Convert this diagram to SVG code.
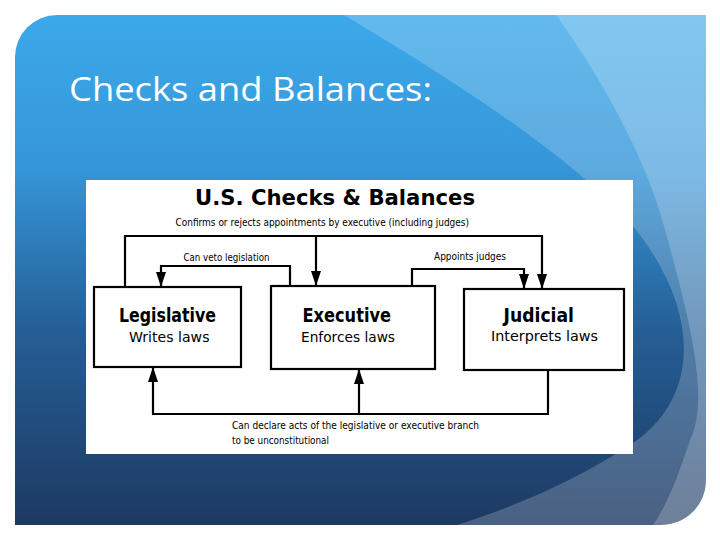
<svg xmlns="http://www.w3.org/2000/svg" width="720" height="540" viewBox="0 0 720 540">
<defs>
<linearGradient id="bgGrad" x1="0" y1="0" x2="0" y2="1">
<stop offset="0" stop-color="#3CA9EA"/>
<stop offset="0.3" stop-color="#3596D8"/>
<stop offset="0.62" stop-color="#255E95"/>
<stop offset="1" stop-color="#1D3962"/>
</linearGradient>
<clipPath id="bgClip"><path d="M57,15 H706 V480 A45,45 0 0 1 661,525 H15 V57 A42,42 0 0 1 57,15 Z"/></clipPath>
<marker id="ah" viewBox="0 0 15 10" refX="15" refY="5" markerWidth="15" markerHeight="10" markerUnits="userSpaceOnUse" orient="auto">
<path d="M0,0 L15,5 L0,10 Z" fill="#000"/>
</marker>
</defs>
<style>
.title{font-family:"Open Sans","DejaVu Sans",sans-serif;font-size:33px;fill:#fff}
.dg{font-family:"Comic Sans MS","DejaVu Sans",sans-serif;fill:#000}
.big{font-size:22px;font-weight:bold}
.name{font-size:19px;font-weight:bold}
.sub{font-size:14px}
.lbl{font-size:10px}
.box{fill:#fff;stroke:#000;stroke-width:2.2}
.conn{fill:none;stroke:#000;stroke-width:2.2}
</style>
<g id="background">
<path d="M57,15 H706 V480 A45,45 0 0 1 661,525 H15 V57 A42,42 0 0 1 57,15 Z" fill="url(#bgGrad)"/>
<g clip-path="url(#bgClip)">
<path d="M344,15 C470,90 590,170 640,235 C700,315 700,400 630,445 C580,478 520,505 457,525 L720,540 L720,0 L344,0 Z" fill="#fff" fill-opacity="0.2"/>
<path d="M556,15 C610,90 650,170 665,230 C690,320 710,400 690,440 C680,470 670,500 653,525 L720,540 L720,0 L556,0 Z" fill="#fff" fill-opacity="0.2"/>
</g>
</g>
<text class="title" x="69" y="101" textLength="363" lengthAdjust="spacingAndGlyphs">Checks and Balances:</text>
<rect id="picture" x="86" y="180" width="547" height="274" fill="#fff"/>
<text class="dg big" x="195" y="205" textLength="280" lengthAdjust="spacingAndGlyphs">U.S. Checks &amp; Balances</text>
<g id="connectors">
<polyline class="conn" points="125,287 125,236 542,236 542,289" marker-end="url(#ah)"/>
<line class="conn" x1="316" y1="236" x2="316" y2="286" marker-end="url(#ah)"/>
<polyline class="conn" points="290,286 290,266 161,266 161,287" marker-end="url(#ah)"/>
<polyline class="conn" points="412,286 412,269 524,269 524,289" marker-end="url(#ah)"/>
<polyline class="conn" points="548,370 548,414 153,414 153,367" marker-end="url(#ah)"/>
<line class="conn" x1="359" y1="414" x2="359" y2="369" marker-end="url(#ah)"/>
<text class="dg lbl" x="175.5" y="226" textLength="293.5" lengthAdjust="spacingAndGlyphs">Confirms or rejects appointments by executive (including judges)</text>
<text class="dg lbl" x="183.5" y="261" textLength="86" lengthAdjust="spacingAndGlyphs">Can veto legislation</text>
<text class="dg lbl" x="434" y="260" textLength="72" lengthAdjust="spacingAndGlyphs">Appoints judges</text>
<text class="dg lbl" x="232" y="429" textLength="247" lengthAdjust="spacingAndGlyphs">Can declare acts of the legislative or executive branch</text>
<text class="dg lbl" x="232" y="444" textLength="97" lengthAdjust="spacingAndGlyphs">to be unconstitutional</text>
</g>
<g id="legislative">
<rect class="box" x="94" y="287" width="147" height="80"/>
<text class="dg name" x="119" y="322" textLength="97" lengthAdjust="spacingAndGlyphs">Legislative</text>
<text class="dg sub" x="129" y="342" textLength="80.5" lengthAdjust="spacingAndGlyphs">Writes laws</text>
</g>
<g id="executive">
<rect class="box" x="271" y="286" width="164" height="83"/>
<text class="dg name" x="302.5" y="322" textLength="88.5" lengthAdjust="spacingAndGlyphs">Executive</text>
<text class="dg sub" x="301" y="342" textLength="94" lengthAdjust="spacingAndGlyphs">Enforces laws</text>
</g>
<g id="judicial">
<rect class="box" x="464" y="289" width="160" height="81"/>
<text class="dg name" x="503.5" y="322" textLength="70.5" lengthAdjust="spacingAndGlyphs">Judicial</text>
<text class="dg sub" x="491" y="341" textLength="107" lengthAdjust="spacingAndGlyphs">Interprets laws</text>
</g>
</svg>
